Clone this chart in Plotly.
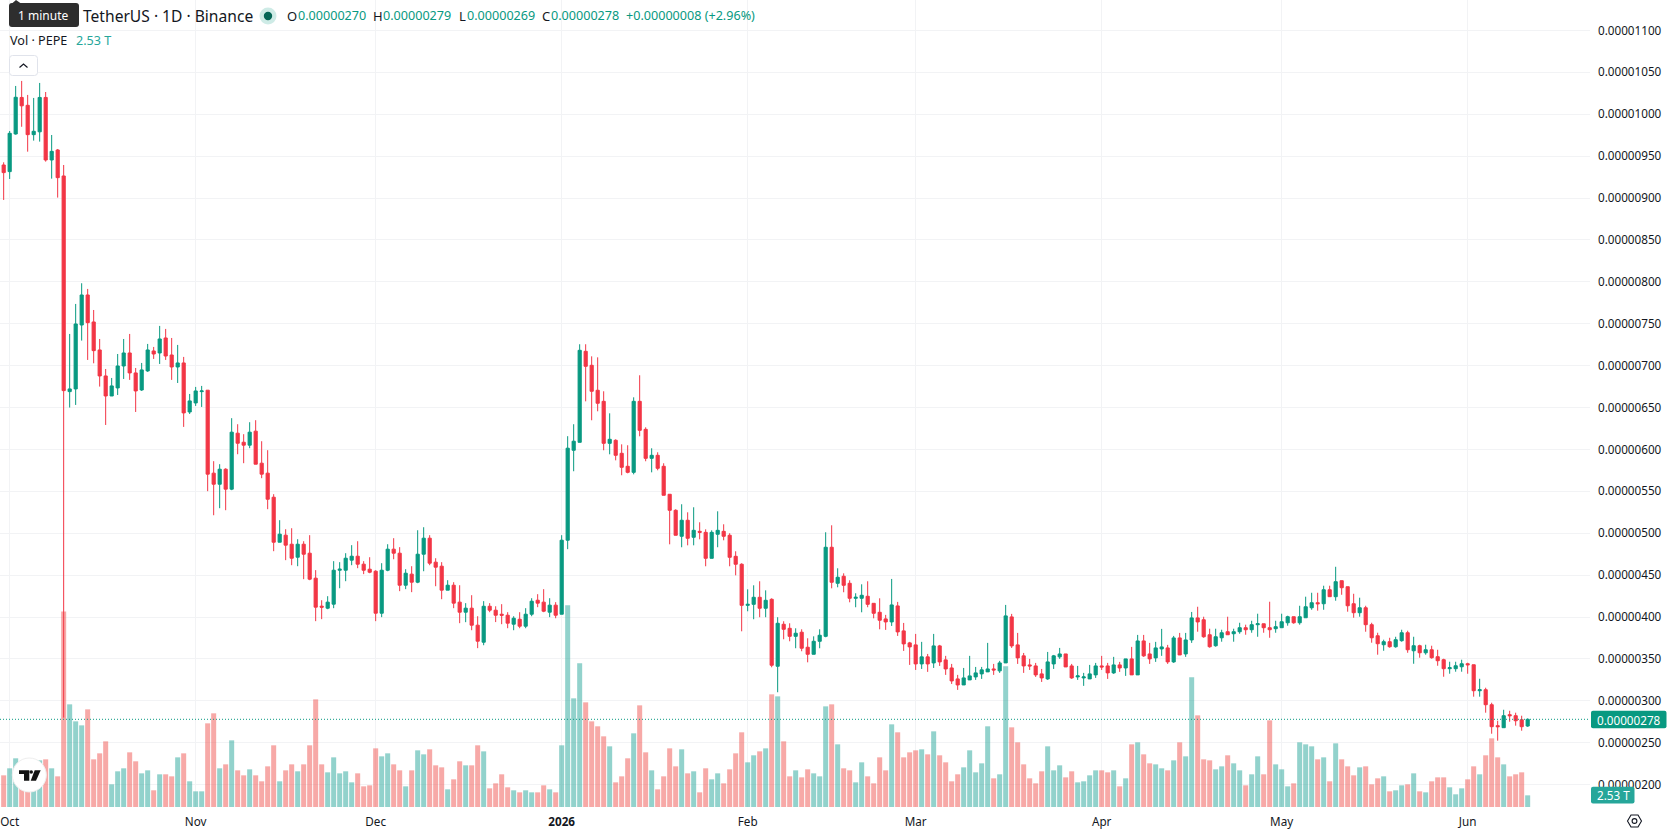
import pandas as pd
import plotly.graph_objects as go

# Daily PEPE/USDT candles, prices in units of 1e-8, volume in trillions
first_day = "2025-09-30"

open_px = [
    939.4,931.5,976.4,1020.0,1010.6,975.6,979.0,1020.0,945.4,957.3,
    926.3,669.0,672.2,748.5,784.3,752.1,718.7,687.7,663.8,673.4,
    699.6,715.1,691.3,671.0,693.7,717.5,715.1,733.0,712.7,698.4,
    703.2,644.7,655.5,669.0,670.7,571.7,558.5,576.4,552.6,619.4,
    608.6,605.1,621.8,583.6,571.7,543.0,489.3,497.7,486.9,471.4,
    486.9,476.2,446.4,413.0,410.6,415.4,455.9,455.9,467.9,472.6,
    463.1,457.1,454.7,404.6,455.9,481.0,476.2,438.0,451.2,441.6,
    475.0,494.1,465.5,460.7,432.1,438.0,417.8,405.8,410.6,390.3,
    370.0,412.9,408.2,403.4,402.2,391.5,397.4,389.1,403.4,420.1,
    417.8,405.8,414.2,403.4,491.7,599.0,608.5,717.1,700.4,670.6,
    657.4,607.3,610.9,595.4,579.9,572.7,657.4,624.0,589.4,593.0,
    579.9,546.5,527.4,496.4,515.5,495.2,502.3,501.1,470.1,498.8,
    502.3,497.6,472.5,463.0,414.0,415.2,423.6,410.5,421.2,341.3,
    391.4,386.6,377.0,381.9,364.0,355.6,371.1,377.0,483.3,440.3,
    448.7,440.3,422.4,422.4,424.8,416.4,405.7,397.8,394.2,413.3,
    383.5,369.2,366.8,344.1,352.5,345.3,365.6,348.9,339.3,326.2,
    319.0,325.0,328.6,332.2,334.6,338.1,335.8,345.3,400.2,366.8,
    353.7,342.9,341.7,332.2,326.2,344.1,352.5,356.0,341.7,328.6,
    327.4,326.2,331.0,341.7,341.7,333.4,342.9,339.3,350.1,331.0,
    371.5,356.0,351.3,362.0,363.2,346.5,375.1,356.0,372.7,399.0,
    396.8,378.9,365.8,375.3,382.5,380.1,382.5,387.3,384.9,390.9,
    392.0,387.3,386.1,387.3,393.2,400.4,393.2,399.2,411.1,417.1,
    415.9,432.6,424.3,443.4,436.2,415.9,405.2,411.1,390.9,377.7,
    367.0,370.6,364.6,371.8,381.3,359.8,365.8,357.4,361.0,352.7,
    349.1,338.4,338.4,340.7,344.3,343.1,312.1,313.3,295.4,270.4,
    268.0,283.5,282.3,277.5,270.0,
]
high_px = [
    942.6,980.0,1033.7,1039.7,1023.0,1019.4,1037.3,1026.5,975.2,958.5,
    939.4,737.8,773.6,798.3,791.5,766.4,731.8,696.0,685.3,713.9,
    731.8,737.8,697.2,703.2,725.9,722.3,747.4,743.8,733.0,724.7,
    710.4,666.2,674.6,675.8,670.7,586.0,582.4,577.6,637.3,630.1,
    618.2,632.5,634.9,609.8,599.1,546.6,515.6,504.8,506.0,492.9,
    490.5,497.7,456.0,420.1,424.9,466.7,465.5,476.2,485.8,490.5,
    466.7,471.4,455.9,464.3,486.9,494.1,483.4,457.1,460.7,503.6,
    507.2,497.7,470.2,465.5,444.0,441.6,438.0,416.6,426.1,401.0,
    419.0,416.6,412.9,415.4,405.8,401.0,405.8,410.6,422.5,427.3,
    433.3,422.5,417.8,497.7,615.8,630.1,725.5,725.5,711.1,709.9,
    669.4,643.1,612.1,606.1,605.0,662.2,688.5,626.4,601.4,596.6,
    583.5,546.5,528.6,534.6,525.0,531.0,513.1,504.7,503.5,526.2,
    510.7,500.0,478.5,464.2,433.1,437.9,442.7,431.9,422.4,399.8,
    395.0,392.6,386.6,385.4,374.7,377.0,385.4,501.2,509.5,458.2,
    452.2,443.9,428.4,439.1,442.7,416.4,422.4,402.6,445.5,418.1,
    393.0,370.4,379.9,370.4,356.0,379.9,366.8,353.7,344.1,331.0,
    339.3,353.7,340.5,340.5,369.2,344.1,347.7,414.5,403.8,381.1,
    357.2,350.1,345.3,338.1,358.4,354.8,363.2,356.0,344.1,341.7,
    333.4,342.9,345.3,353.7,345.3,352.5,346.5,350.1,364.4,378.7,
    378.7,369.2,370.4,385.9,366.8,377.5,381.1,381.1,406.1,412.3,
    400.4,386.1,386.1,384.9,400.4,386.1,393.2,390.9,395.6,404.0,
    392.0,418.3,395.6,404.0,401.6,400.4,413.5,424.3,429.0,429.0,
    437.4,437.4,460.0,443.4,436.2,427.8,423.1,413.5,393.2,381.3,
    373.0,375.3,376.5,384.9,383.7,376.5,367.0,367.0,365.8,361.0,
    350.3,346.7,346.7,349.1,345.5,343.1,326.4,315.7,297.8,276.3,
    289.4,288.2,285.9,282.3,279.0,
]
low_px = [
    897.7,922.7,975.6,985.0,955.3,968.5,967.3,943.4,923.1,900.5,
    280.0,650.0,653.1,729.9,706.8,702.8,675.0,629.2,663.8,665.0,
    684.1,683.0,644.7,669.8,692.5,708.0,702.0,706.8,683.0,679.3,
    626.9,642.3,651.9,650.7,550.2,521.5,529.9,527.5,551.4,594.3,
    583.6,601.5,582.4,565.7,528.7,478.6,489.3,467.9,461.9,460.7,
    445.2,444.0,395.1,397.5,409.4,410.6,434.4,442.8,461.9,458.3,
    451.2,452.3,395.1,399.9,454.7,469.0,430.9,433.3,429.7,440.4,
    454.7,461.9,436.8,421.3,432.1,410.6,392.7,393.9,384.3,362.9,
    366.4,405.8,394.0,391.5,386.7,384.3,386.7,386.7,401.0,411.8,
    405.8,399.9,398.6,403.4,481.0,574.0,608.5,657.4,634.8,645.5,
    599.0,594.2,587.0,569.2,571.5,570.3,615.7,585.9,572.7,575.1,
    545.3,486.8,497.6,483.3,485.6,485.6,492.8,460.6,470.1,483.3,
    491.6,460.6,449.8,383.0,406.9,397.4,399.8,399.8,340.1,310.3,
    373.5,371.1,362.8,359.2,346.0,355.6,362.8,375.9,434.3,435.5,
    429.6,417.6,411.7,405.7,411.7,398.5,385.4,384.7,389.4,377.5,
    359.6,342.9,336.9,338.1,334.6,339.3,341.7,331.0,320.2,313.1,
    319.0,325.0,325.0,326.2,334.6,331.0,333.4,345.3,363.2,344.1,
    333.4,336.9,328.6,322.6,325.0,338.1,350.1,340.5,326.2,325.0,
    317.9,326.2,327.4,336.9,326.2,332.2,334.6,329.8,331.0,331.0,
    352.5,344.1,346.5,353.7,344.1,345.3,354.8,352.5,369.2,382.5,
    375.3,363.4,364.6,370.6,378.9,370.6,380.1,378.9,381.3,376.5,
    381.3,375.3,381.3,387.3,389.7,392.0,390.9,399.2,408.7,407.6,
    408.7,424.3,419.5,426.6,406.4,399.2,400.4,382.5,369.4,355.1,
    359.8,363.4,363.4,370.6,357.4,344.3,351.5,355.1,350.3,341.9,
    328.8,332.4,334.8,334.8,332.4,305.0,305.0,285.9,260.8,252.5,
    268.0,275.1,270.4,264.4,269.0,
]
close_px = [
    930.3,977.2,1020.2,1010.0,975.6,979.6,1020.0,945.4,955.7,924.3,
    670.2,672.2,749.7,784.3,751.3,717.9,687.7,663.8,675.8,699.6,
    715.1,691.3,669.8,694.9,718.7,713.9,731.8,711.5,698.4,703.2,
    643.6,657.9,669.8,669.8,570.5,558.5,576.4,552.6,620.6,607.4,
    605.1,620.6,582.4,570.5,540.6,489.3,498.9,485.8,470.2,486.9,
    475.0,445.2,411.8,411.8,417.8,455.9,457.1,470.2,472.6,463.1,
    455.9,453.5,404.6,455.9,481.0,476.2,438.0,452.3,441.6,475.0,
    494.1,464.3,459.5,432.1,438.0,416.6,405.8,410.6,390.3,371.2,
    412.9,408.2,402.2,402.2,392.7,398.6,389.1,403.4,418.9,416.6,
    407.0,414.2,402.2,491.7,601.5,609.8,718.3,699.2,669.4,655.1,
    607.3,612.1,593.0,578.7,572.7,657.4,622.8,589.4,593.0,577.5,
    545.3,527.4,497.6,515.5,494.0,503.5,501.1,470.1,501.1,503.5,
    496.4,471.3,463.0,414.0,415.2,423.6,410.5,420.0,342.5,392.6,
    385.4,377.0,380.7,362.8,355.6,371.1,378.3,483.3,441.5,447.5,
    437.9,422.4,423.6,426.0,415.2,404.5,396.2,394.2,414.5,382.3,
    368.0,364.4,344.1,352.5,344.1,365.6,346.5,338.1,323.8,319.0,
    327.4,329.8,333.4,337.0,338.1,336.9,345.3,401.4,365.6,351.3,
    341.7,341.7,331.0,327.4,346.5,353.7,356.0,340.5,327.4,329.8,
    328.6,332.2,341.7,340.5,333.4,342.9,339.3,350.1,331.0,371.5,
    353.7,350.1,363.2,364.4,346.5,375.1,354.8,372.7,399.0,394.2,
    376.5,364.6,376.5,381.3,378.9,382.5,387.3,384.9,390.9,392.0,
    387.3,384.9,388.5,394.4,400.4,393.2,400.4,412.3,417.1,415.9,
    432.6,424.3,442.2,435.0,413.5,405.2,411.1,390.9,375.3,368.2,
    370.6,364.6,373.0,381.3,361.0,365.8,357.4,361.0,351.5,347.9,
    338.4,339.6,341.9,344.3,343.1,312.1,313.3,295.4,269.2,269.2,
    282.3,282.3,276.3,269.2,278.0,
]
volume_t = [
    6.87,8.39,10.56,6.5,3.25,6.0,10.12,10.34,8.39,6.65,
    42.4,22.27,18.58,17.71,21.18,10.34,11.64,14.24,4.92,7.74,
    8.39,11.86,9.91,7.30,7.95,3.62,7.09,7.09,6.65,10.77,
    11.64,5.57,3.40,3.40,18.15,20.32,8.39,9.25,14.46,7.95,
    6.87,8.17,6.87,5.57,8.82,13.38,5.57,7.95,9.25,7.74,
    9.25,13.38,23.35,9.25,7.52,10.77,7.30,7.74,5.35,7.30,
    4.48,4.70,12.72,10.99,11.64,9.25,7.95,4.48,7.95,12.29,
    11.42,12.51,9.04,8.60,3.83,6.00,9.91,9.04,9.04,13.38,
    12.07,4.05,5.13,7.09,4.27,3.62,3.18,3.62,3.18,3.18,
    4.70,3.83,3.18,13.38,43.74,23.57,31.16,22.70,18.58,17.50,
    15.33,13.16,5.35,6.65,10.56,15.98,22.05,11.86,7.95,3.83,
    6.65,12.72,8.82,12.51,7.30,7.74,3.18,8.39,6.00,7.30,
    5.13,8.17,11.64,16.20,9.69,11.21,12.07,12.72,24.44,24.00,
    14.24,6.65,7.95,6.43,8.17,7.30,6.65,21.83,22.27,13.59,
    8.39,7.95,5.35,9.69,6.65,5.13,10.77,7.95,17.93,16.20,
    10.77,11.86,12.29,12.51,11.42,16.41,11.21,9.69,5.57,7.09,
    8.60,12.29,7.52,9.47,17.50,6.22,7.09,30.51,17.28,14.03,
    9.25,6.22,5.13,7.74,13.16,7.95,9.04,6.43,7.74,5.35,
    5.57,6.87,7.95,7.95,7.52,7.95,4.48,6.22,13.59,14.03,
    11.42,9.47,9.25,8.39,7.95,10.12,14.03,10.99,28.12,19.88,
    10.34,10.12,8.17,8.82,11.21,9.47,7.95,4.70,7.09,10.99,
    7.09,18.80,9.25,8.17,4.48,5.13,14.03,13.59,13.16,10.34,
    10.77,5.57,13.81,10.34,8.82,6.87,8.60,8.82,4.92,6.22,
    6.65,3.40,3.62,4.70,4.92,7.30,3.40,3.18,5.57,6.43,
    6.43,4.27,2.75,4.05,6.00,8.82,7.09,11.21,14.89,10.77,
    9.25,6.65,7.09,7.52,2.53,
]

price_tick_units = list(range(200, 1101, 50))
month_ticks = ["2025-10-01", "2025-11-01", "2025-12-01", "2026-01-01", "2026-02-01",
               "2026-03-01", "2026-04-01", "2026-05-01", "2026-06-01"]
month_labels = ["Oct", "Nov", "Dec", "<b>2026</b>", "Feb", "Mar", "Apr", "May", "Jun"]

UNIT = 1e-8
last_price = 278
last_volume = "2.53 T"

GREEN, RED = "#089981", "#F23645"
INK, GRID = "#131722", "#F2F3F5"
FONT = "Noto Sans"

W, H = 1678, 835
PLOT_W, PLOT_H = 1590, 807


def px(x):
    return x / PLOT_W


def py(y):
    return 1 - y / PLOT_H


days = pd.date_range(first_day, periods=len(open_px), freq="D")
direction_up = [c >= o for o, c in zip(open_px, close_px)]
volume_colors = ["rgba(38,166,154,0.5)" if up else "rgba(239,83,80,0.5)" for up in direction_up]

fig = go.Figure()

# Volume sits on the base axis so the candles stack over it
fig.add_trace(go.Bar(
    x=days, y=volume_t, yaxis="y", width=86400000 * 5 / 6,
    marker=dict(color=volume_colors, line=dict(width=0)),
    hoverinfo="skip", showlegend=False,
))
fig.add_trace(go.Candlestick(
    x=days,
    open=[v * UNIT for v in open_px], high=[v * UNIT for v in high_px],
    low=[v * UNIT for v in low_px], close=[v * UNIT for v in close_px],
    yaxis="y2", whiskerwidth=0,
    increasing=dict(line=dict(color=GREEN, width=1), fillcolor=GREEN),
    decreasing=dict(line=dict(color=RED, width=1), fillcolor=RED),
    hoverinfo="skip", showlegend=False,
))


def rounded_rect(x0, y0, x1, y1, r):
    return (f"M {px(x0 + r)} {py(y0)} L {px(x1 - r)} {py(y0)} Q {px(x1)} {py(y0)} {px(x1)} {py(y0 + r)} "
            f"L {px(x1)} {py(y1 - r)} Q {px(x1)} {py(y1)} {px(x1 - r)} {py(y1)} "
            f"L {px(x0 + r)} {py(y1)} Q {px(x0)} {py(y1)} {px(x0)} {py(y1 - r)} "
            f"L {px(x0)} {py(y0 + r)} Q {px(x0)} {py(y0)} {px(x0 + r)} {py(y0)} Z")


def poly(points):
    head, *rest = points
    return f"M {px(head[0])} {py(head[1])} " + " ".join(f"L {px(a)} {py(b)}" for a, b in rest) + " Z"


def paper_shape(**kw):
    return dict(xref="paper", yref="paper", layer="above", **kw)


def circle(cx, cy, r, **kw):
    return paper_shape(type="circle", x0=px(cx - r), x1=px(cx + r), y0=py(cy + r), y1=py(cy - r), **kw)


no_line = dict(width=0)
shapes = [
    # last price line across the pane
    dict(type="line", xref="paper", yref="y2", x0=0, x1=1, y0=last_price * UNIT, y1=last_price * UNIT,
         layer="above", line=dict(color=GREEN, width=1, dash="1px,2px")),
    # price and volume tags on the axis
    paper_shape(type="path", path=rounded_rect(1591, 710.7, 1666.5, 728.3, 2), fillcolor=GREEN, line=no_line),
    paper_shape(type="path", path=rounded_rect(1591, 786.7, 1634.5, 803.5, 2), fillcolor="#26A69A", line=no_line),
    # tooltip over the symbol title
    paper_shape(type="path", path=rounded_rect(9, 3, 79, 27, 3), fillcolor="#2E2E2E", line=no_line),
    paper_shape(type="path", path=poly([(12, 3.5), (16, 0), (21, 3.5)]), fillcolor="#2E2E2E", line=no_line),
    # live status dot
    circle(268, 16, 8.5, fillcolor="rgba(8,153,129,0.2)", line=no_line),
    circle(268, 16, 4.2, fillcolor="#056656", line=no_line),
    # collapse button with chevron
    paper_shape(type="path", path=rounded_rect(9.5, 55.5, 37.5, 75.5, 3), fillcolor="white",
                line=dict(color="#E0E3EB", width=1)),
    paper_shape(type="path", path=f"M {px(19.5)} {py(67.5)} L {px(23.5)} {py(64)} L {px(27.5)} {py(67.5)}",
                line=dict(color=INK, width=1.2)),
    # round brand badge
    circle(29.3, 775, 17, fillcolor="white", line=dict(color="#EEEEEE", width=1)),
    paper_shape(type="path", path=poly([(19, 770.3), (29.3, 770.3), (29.3, 780.7), (24, 780.7), (24, 774), (19, 774)]),
                fillcolor="#131313", line=no_line),
    circle(31.2, 772, 1.8, fillcolor="#131313", line=no_line),
    paper_shape(type="path", path=poly([(34.7, 770.3), (40.7, 770.3), (36, 780.7), (30.7, 780.7)]),
                fillcolor="#131313", line=no_line),
    # settings icon
    paper_shape(type="path", path=poly([(1627.5, 821), (1631, 815), (1638, 815), (1641.5, 821), (1638, 827), (1631, 827)]),
                line=dict(color=INK, width=1.1)),
    circle(1634.5, 821, 2.4, line=dict(color=INK, width=1.1)),
]


def label(x, y, text, size=13, color=INK, anchor="left"):
    return dict(xref="paper", yref="paper", x=px(x), y=py(y), text=text, showarrow=False, xanchor=anchor,
                yanchor="middle", borderpad=0, font=dict(family=FONT, size=size, color=color))


annotations = [
    label(16.5, 15.5, "1 minute", 12, "#FFFFFF"),
    label(82, 16, "TetherUS · 1D · Binance", 15.6),
    label(285.7, 16, "O"), label(297, 16, "0.00000270", 12.6, GREEN),
    label(372, 16, "H"), label(382, 16, "0.00000279", 12.6, GREEN),
    label(457.7, 16, "L"), label(465.5, 16, "0.00000269", 12.6, GREEN),
    label(540.7, 16, "C"), label(550, 16, "0.00000278", 12.6, GREEN),
    label(625, 16, "+0.00000008 (+2.96%)", 12.6, GREEN),
    label(9, 40.5, "Vol · PEPE", 12.6),
    label(75, 40.5, last_volume, 12.6, "#26A69A"),
    label(1628.7, 719.5, f"{last_price * UNIT:.8f}", 11.7, "#FFFFFF", "center"),
    label(1613, 795, last_volume, 11.7, "#FFFFFF", "center"),
]

# Pane spans 6 px per day with Oct 1 sitting 9.67 px from the left edge
oct_first = pd.Timestamp("2025-10-01")
x_start = oct_first - pd.Timedelta(days=9.67 / 6)
x_end = oct_first + pd.Timedelta(days=(PLOT_W - 9.67) / 6)

# Price scale: 0.8381 px per 1e-8 with 1050e-8 at y = 72.3
price_top = (1050 + 72.3 / 0.8381) * UNIT
price_bottom = (1050 - (PLOT_H - 72.3) / 0.8381) * UNIT

fig.update_layout(
    width=W, height=H,
    margin=dict(l=0, r=W - PLOT_W, t=0, b=H - PLOT_H),
    paper_bgcolor="white", plot_bgcolor="white",
    boxgap=0.25, boxmode="overlay", hovermode=False, dragmode=False,
    showlegend=False,
    font=dict(family=FONT, size=11.7, color=INK),
    shapes=shapes, annotations=annotations,
    xaxis=dict(
        type="date", range=[x_start, x_end], rangeslider=dict(visible=False),
        tickmode="array", tickvals=month_ticks, ticktext=month_labels,
        showgrid=True, gridcolor=GRID, gridwidth=1, zeroline=False, showline=False,
        ticks="", ticklabelstandoff=6, tickangle=0, fixedrange=True,
    ),
    yaxis=dict(range=[0, PLOT_H / 4.61], visible=False, showgrid=False, fixedrange=True),
    yaxis2=dict(
        overlaying="y", side="right", range=[price_bottom, price_top],
        tickmode="array", tickvals=[v * UNIT for v in price_tick_units],
        ticktext=[f"{v * UNIT:.8f}" for v in price_tick_units],
        showgrid=True, gridcolor=GRID, gridwidth=1, zeroline=False, showline=False,
        ticks="", ticklabelstandoff=7, fixedrange=True,
    ),
)

fig.write_html("out.html", config=dict(displayModeBar=False))
